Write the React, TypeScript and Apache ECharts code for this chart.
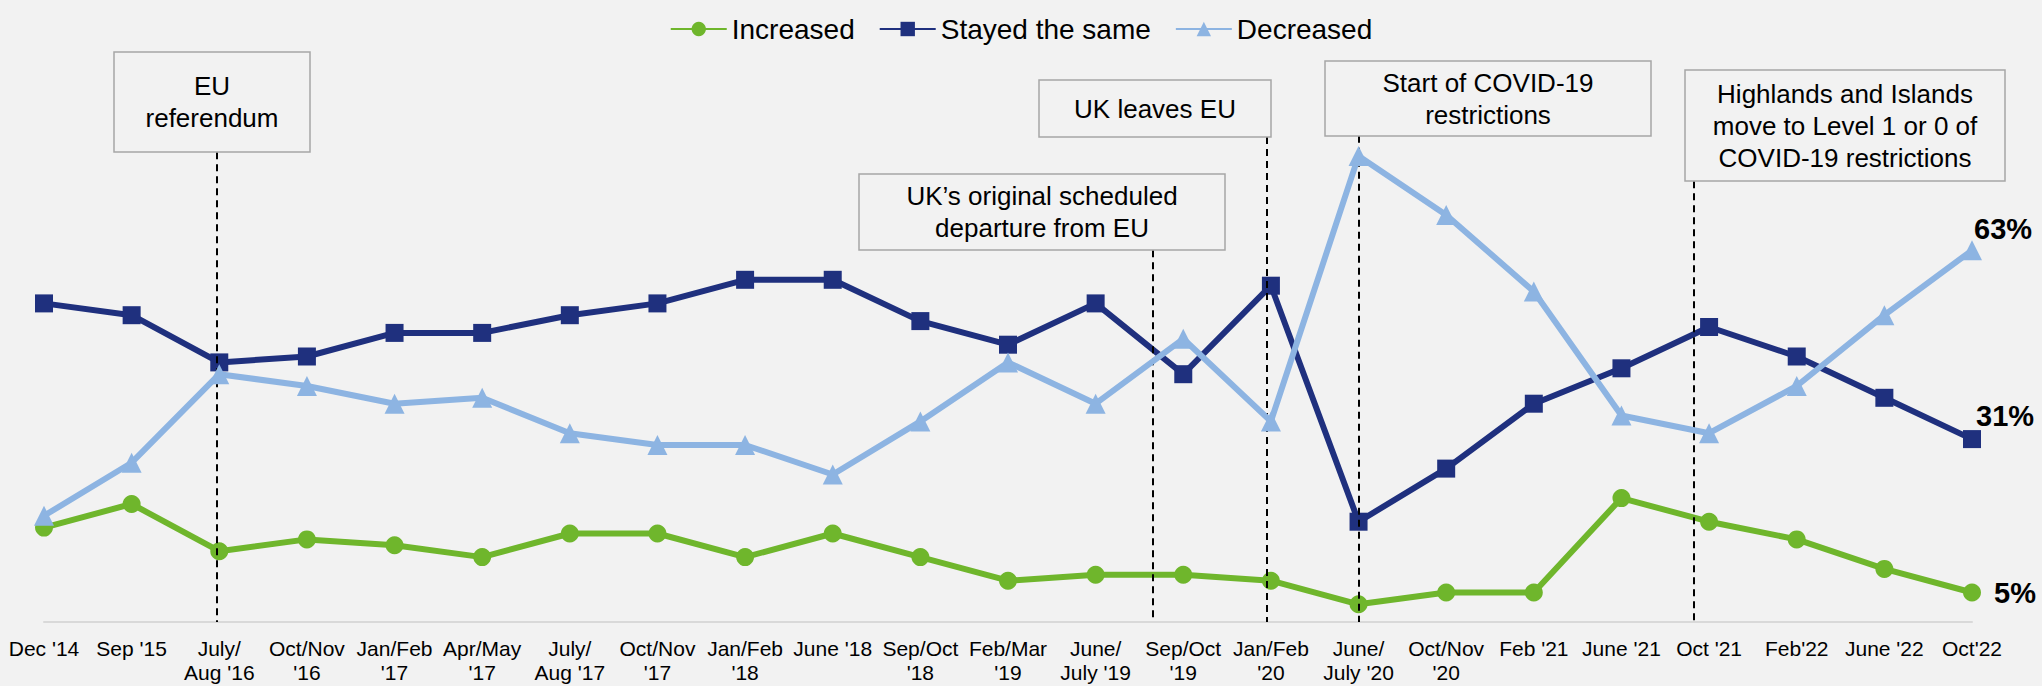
import React, { useEffect, useRef } from "react";
import * as echarts from "echarts";

const categories = [
  "Dec '14", "Sep '15", "July/\nAug '16", "Oct/Nov\n'16", "Jan/Feb\n'17", "Apr/May\n'17",
  "July/\nAug '17", "Oct/Nov\n'17", "Jan/Feb\n'18", "June '18", "Sep/Oct\n'18", "Feb/Mar\n'19",
  "June/\nJuly '19", "Sep/Oct\n'19", "Jan/Feb\n'20", "June/\nJuly '20", "Oct/Nov\n'20", "Feb '21",
  "June '21", "Oct '21", "Feb'22", "June '22", "Oct'22",
];

const increased = [16, 20, 12, 14, 13, 11, 15, 15, 11, 15, 11, 7, 8, 8, 7, 3, 5, 5, 21, 17, 14, 9, 5];
const stayedSame = [54, 52, 44, 45, 49, 49, 52, 54, 58, 58, 51, 47, 54, 42, 57, 17, 26, 37, 43, 50, 45, 38, 31];
const decreased = [18, 27, 42, 40, 37, 38, 32, 30, 30, 25, 34, 44, 37, 48, 34, 79, 69, 56, 35, 32, 40, 52, 63];

const seriesNames = ["Increased", "Stayed the same", "Decreased"];

// event annotations: position along category index, top of dashed line (value units)
const eventLabels = [
  "EU\nreferendum",
  "UK’s original scheduled\ndeparture from EU",
  "UK leaves EU",
  "Start of COVID-19\nrestrictions",
  "Highlands and Islands\nmove to Level 1 or 0 of\nCOVID-19 restrictions",
];
const eventPositions = [1.97, 12.65, 13.95, 15.0, 18.83];
const eventLineTops = [79.6, 63.0, 82.2, 82.4, 74.7];

// annotation box layout in pixels [x, y, w, h]
const boxLayout = [
  [114, 52, 196, 100],
  [859, 174, 366, 76],
  [1039, 80, 232, 57],
  [1325, 61, 326, 75],
  [1685, 70, 320, 111],
];

const FONT = 'Arial, "Liberation Sans", sans-serif';
const colors = ["#6fb62c", "#1f307e", "#8db4e2"];
const symbols = ["circle", "rect", "triangle"];
const symbolSizes = [18, 18, 20];
const endOffsets = [
  [8, 0],
  [-10, -23],
  [-13, -21],
];

export default function App() {
  const ref = useRef<HTMLDivElement>(null);

  useEffect(() => {
    if (!ref.current) return;
    const chart = echarts.init(ref.current, null, { renderer: "svg" });
    const allData = [increased, stayedSame, decreased];
    const last = categories.length - 1;

    const series: any[] = allData.map((arr, si) => ({
      name: seriesNames[si],
      type: "line",
      xAxisIndex: 0,
      yAxisIndex: 0,
      data: arr.map((v, i) =>
        i === last
          ? {
              value: v,
              label: {
                show: true,
                position: "right",
                formatter: "{c}%",
                fontSize: 29,
                fontWeight: "bold",
                color: "#000",
                fontFamily: FONT,
                offset: endOffsets[si],
              },
            }
          : v
      ),
      symbol: symbols[si],
      symbolSize: symbolSizes[si],
      lineStyle: { color: colors[si], width: 6 },
      itemStyle: { color: colors[si] },
      z: 3 + si,
    }));

    series.push({
      type: "line",
      xAxisIndex: 1,
      yAxisIndex: 0,
      data: [],
      silent: true,
      z: 2,
      markLine: {
        symbol: ["none", "none"],
        silent: true,
        animation: false,
        label: { show: false },
        lineStyle: { color: "#000", width: 2, type: [7, 5] },
        data: eventPositions.map((p, i) => [
          { coord: [p, eventLineTops[i]] },
          { coord: [p, 0] },
        ]),
      },
    });

    const graphics: any[] = [];
    boxLayout.forEach((b, i) => {
      graphics.push({
        type: "rect",
        shape: { x: b[0], y: b[1], width: b[2], height: b[3] },
        style: { fill: "#f2f2f2", stroke: "#a6a6a6", lineWidth: 1.5 },
        z: 10,
      });
      graphics.push({
        type: "text",
        x: b[0] + b[2] / 2,
        y: b[1] + b[3] / 2,
        style: {
          text: eventLabels[i],
          fill: "#000",
          fontSize: 26,
          fontFamily: FONT,
          lineHeight: 32,
          textAlign: "center",
          textVerticalAlign: "middle",
          align: "center",
          verticalAlign: "middle",
        },
        z: 11,
      });
    });

    chart.setOption({
      animation: false,
      backgroundColor: "#f2f2f2",
      textStyle: { fontFamily: FONT },
      legend: {
        data: seriesNames,
        top: 10,
        left: "center",
        itemWidth: 56,
        itemHeight: 18,
        itemGap: 24,
        textStyle: { fontSize: 28, color: "#000", fontFamily: FONT },
      },
      grid: { left: 44, right: 70, top: 32, bottom: 64, containLabel: false },
      xAxis: [
        {
          type: "category",
          data: categories,
          boundaryGap: false,
          axisLine: { show: true, lineStyle: { color: "#d9d9d9", width: 2 } },
          axisTick: { show: false },
          splitLine: { show: false },
          axisLabel: {
            interval: 0,
            fontSize: 21,
            color: "#000",
            fontFamily: FONT,
            lineHeight: 24,
            margin: 14,
          },
        },
        { type: "value", min: 0, max: 22, show: false },
      ],
      yAxis: {
        type: "value",
        min: 0,
        max: 100,
        show: false,
        splitLine: { show: false },
      },
      series,
      graphic: graphics,
    });

    return () => chart.dispose();
  }, []);

  return (
    <div
      ref={ref}
      style={{ position: "fixed", left: 0, top: 0, width: 2042, height: 686, background: "#f2f2f2" }}
    />
  );
}
